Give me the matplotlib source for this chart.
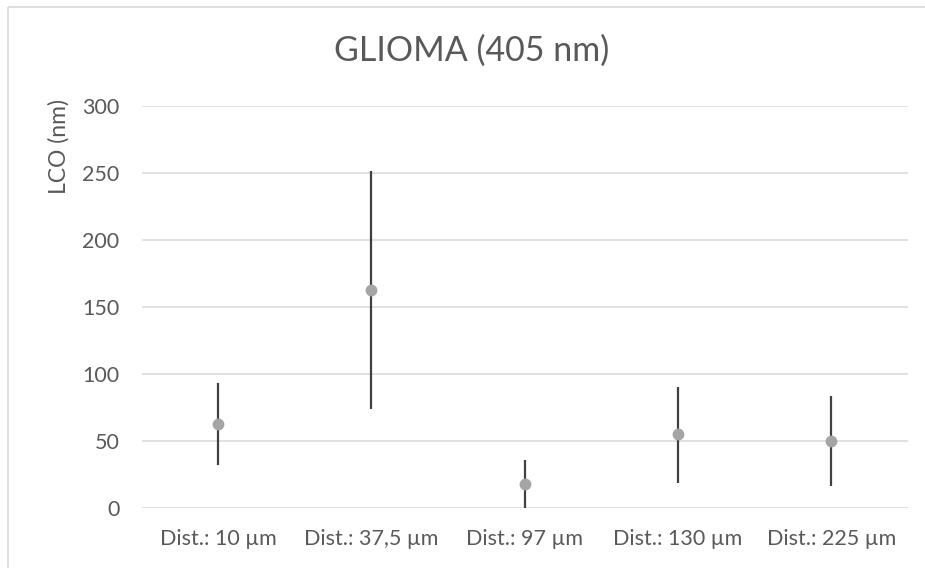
import matplotlib.pyplot as plt
from matplotlib.patches import Rectangle

categories = ['Dist.: 10 µm', 'Dist.: 37,5 µm', 'Dist.: 97 µm', 'Dist.: 130 µm', 'Dist.: 225 µm']
lco = [62.7, 163.0, 18.2, 55.0, 50.0]
err_low = [30.3, 88.8, 18.2, 36.0, 33.8]
err_high = [30.9, 88.6, 17.4, 35.6, 33.6]
yticks = [0, 50, 100, 150, 200, 250, 300]

W, H = 925, 568
text_color = '#595959'
plt.rcParams['font.family'] = ['Lato', 'DejaVu Sans']

fig = plt.figure(figsize=(W / 100, H / 100), dpi=100)

# chart border (right/bottom edges fall outside the picture)
fig.patches.append(Rectangle((8 / W, 1 - 7 / H), 1.2, -1.2, transform=fig.transFigure,
                             fill=False, edgecolor='#D9D9D9', linewidth=1.2))

ax = fig.add_axes([141.5 / W, 1 - 508 / H, (908 - 141.5) / W, (508 - 106) / H])
x = list(range(len(categories)))
ax.errorbar(x, lco, yerr=[err_low, err_high], fmt='none', ecolor='#404040',
            elinewidth=1.6, capsize=0, zorder=3)
ax.plot(x, lco, 'o', color='#A5A5A5', markersize=7.5, zorder=4)

ax.set_xlim(-0.5, len(categories) - 0.5)
ax.set_ylim(0, 300)
ax.set_yticks(yticks)
ax.set_xticks(x)
ax.set_xticklabels(categories)
ax.grid(axis='y', color='#D9D9D9', linewidth=1.1)
ax.set_axisbelow(True)
for s in ax.spines.values():
    s.set_visible(False)
ax.tick_params(length=0, labelsize=15.5, colors=text_color)
ax.tick_params(axis='y', pad=16)
ax.tick_params(axis='x', pad=15)

fig.text(472 / W, 1 - 51 / H, 'GLIOMA (405 nm)', ha='center', va='center',
         fontsize=24.5, color=text_color)
fig.text(59 / W, 1 - 147 / H, 'LCO (nm)', ha='center', va='center', rotation=90,
         fontsize=16.5, color=text_color)

plt.savefig('out.png', dpi=100)
